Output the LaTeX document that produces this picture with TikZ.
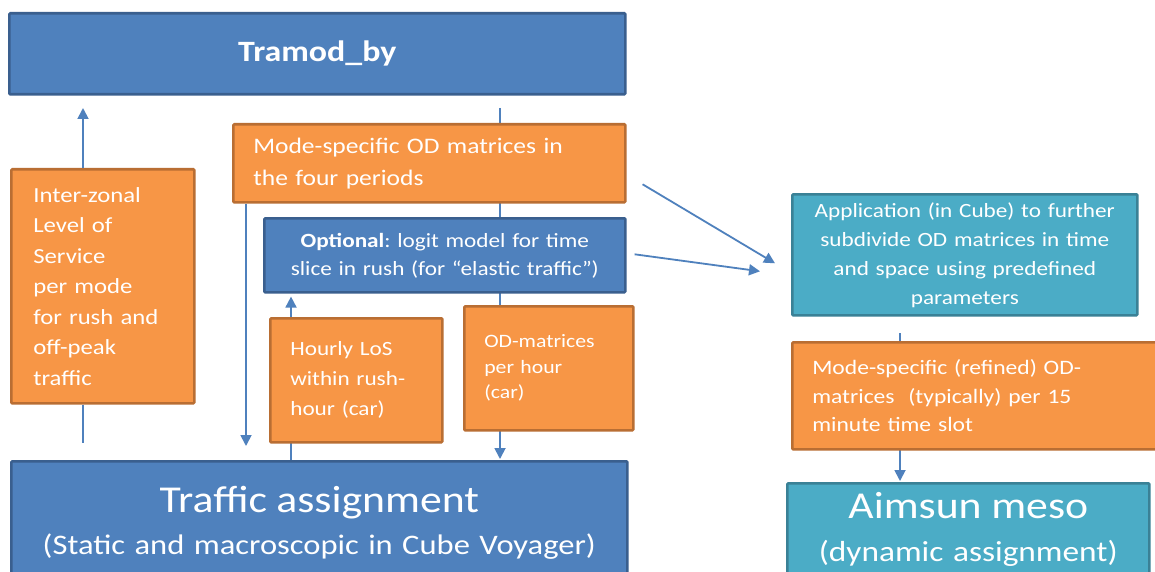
\documentclass[tikz,border=0pt]{standalone}
\usepackage{fontspec}
\setmainfont{Carlito}[FakeStretch=1.15]
\usetikzlibrary{arrows.meta,backgrounds}
\definecolor{bfill}{HTML}{4F81BD}
\definecolor{bdraw}{HTML}{3A5F8E}
\definecolor{ofill}{HTML}{F79646}
\definecolor{odraw}{HTML}{B96E33}
\definecolor{tfill}{HTML}{4BACC6}
\definecolor{tdraw}{HTML}{3A8196}
\begin{document}
\begin{tikzpicture}[x=1pt,y=-1pt,
  box/.style={line width=2.6pt, text=white, anchor=north west, inner ysep=0pt, rounded corners=1pt},
  bluebox/.style={box, fill=bfill, draw=bdraw},
  orbox/.style={box, fill=ofill, draw=odraw},
  tealbox/.style={box, fill=tfill, draw=tdraw},
  conn/.style={draw=bfill, line width=1.8pt},
  arr/.style={conn, -{Triangle[length=11pt,width=11pt]}}]
\useasboundingbox (0,0) rectangle (1155,572);
\clip (0,0) rectangle (1155,572);

\node[bluebox, minimum width=616pt, minimum height=81pt, align=center,
      font=\fontsize{29.5}{34}\selectfont\bfseries] (tramod) at (8,12) {Tramod\_by};

\node[orbox, minimum width=183pt, minimum height=234pt, inner xsep=22pt, text width=139pt,
      align=left, font=\fontsize{21.5}{30.5}\selectfont] (lev) at (10,168)
  {Inter-zonal\\Level of\\Service\\per mode\\for rush and\\off-peak\\traffic};

\node[orbox, minimum width=392pt, minimum height=78pt, inner xsep=20pt, text width=352pt,
      align=left, font=\fontsize{22.2}{32}\selectfont] (modeod) at (232,123)
  {Mode-specific OD matrices in\\the four periods};

\node[bluebox, minimum width=361pt, minimum height=74pt, inner xsep=8pt, text width=345pt,
      align=center, font=\fontsize{20.2}{28}\selectfont] (opt) at (263,217)
  {\textbf{Optional}:\ logit model for time\\slice in rush (for “elastic traffic”)};

\node[orbox, minimum width=172pt, minimum height=124pt, inner xsep=20pt, text width=132pt,
      align=left, font=\fontsize{20.2}{30}\selectfont] (los) at (269,317)
  {Hourly LoS\\within rush-\\hour (car)};

\node[orbox, minimum width=169pt, minimum height=124pt, inner xsep=20pt, text width=129pt,
      align=left, font=\fontsize{18.9}{25.5}\selectfont] (odh) at (463,305)
  {OD-matrices\\per hour\\(car)};

\node[bluebox, minimum width=616pt, minimum height=122pt, inner xsep=8pt, text width=600pt,
      align=center, font=\fontsize{28.3}{42}\selectfont] (ta) at (10,460)
  {{\fontsize{38}{42}\selectfont Traffic assignment}\\(Static and macroscopic in Cube Voyager)};

\node[tealbox, minimum width=345pt, minimum height=121pt, inner xsep=8pt, text width=329pt,
      align=center, font=\fontsize{20.2}{29}\selectfont] (app) at (791,193)
  {Application (in Cube) to further\\subdivide OD matrices in time\\and space using predefined\\parameters};

\node[orbox, minimum width=372pt, minimum height=107pt, inner xsep=20pt, text width=332pt,
      align=left, font=\fontsize{20.5}{28.5}\selectfont] (ref) at (791,341)
  {Mode-specific (refined) OD-\\matrices\ \ (typically) per 15\\minute time slot};

\node[tealbox, minimum width=362pt, minimum height=92pt, inner xsep=8pt, text width=346pt,
      align=center, font=\fontsize{29}{43}\selectfont] (aim) at (786,482)
  {{\fontsize{38}{43}\selectfont Aimsun meso}\\(dynamic assignment)};
\draw[tealbox, anchor=center] (aim.south west) rectangle ([yshift=-40pt]aim.south east);
\fill[tfill] ([xshift=1.3pt,yshift=1.5pt]aim.south west) rectangle ([xshift=-1.3pt,yshift=-40pt]aim.south east);

\coordinate (t1) at (83,108);
\coordinate (t2) at (500,108);
\coordinate (t3) at (900,333);
\coordinate (t4) at (246,201);
\coordinate (t5) at (291,300);

\begin{scope}[on background layer]
  \fill[white] (0,0) rectangle (1155,572);
  \draw[arr, shorten >=1pt] (t2) -- (t2 |- ta.north);
  \draw[arr, shorten >=3pt] (t5 |- ta.north) -- (t5 |- opt.south);
  \draw[arr, shorten >=1pt] (t3) -- (t3 |- aim.north);
\end{scope}

\draw[arr] (t1 |- lev.north) -- (t1);
\draw[conn] (t1 |- lev.south) -- ++(0,38);
\draw[arr, shorten >=14pt] (t4 |- modeod.south) -- (t4 |- ta.north);
\draw[arr] ([xshift=16pt,yshift=-21pt]modeod.east) -- ([xshift=-16pt,yshift=-8.5pt]app.west);
\draw[arr] ([xshift=8pt,yshift=1pt]opt.east) -- ([xshift=-31pt,yshift=-16.5pt]app.west);
\end{tikzpicture}
\end{document}
